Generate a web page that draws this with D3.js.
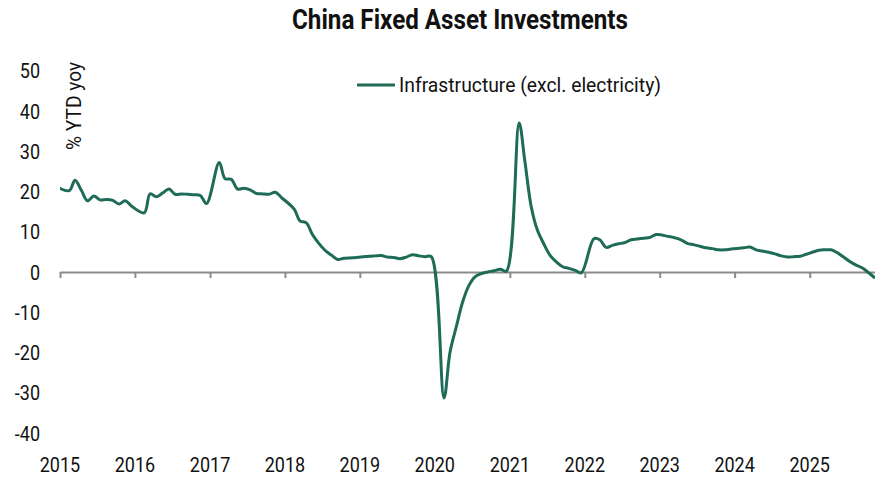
<!DOCTYPE html>
<html><head><meta charset="utf-8">
<script src="https://cdn.jsdelivr.net/npm/d3@7"></script>
<style>
body{margin:0;background:#fff}
svg{display:block;background:#fff}
text{font-family:Roboto,"Liberation Sans",sans-serif;fill:#111}
</style>
</head><body>
<svg id="chart" width="875" height="478"></svg>
<script>
// ---- data ----
const title = "China Fixed Asset Investments";
const seriesName = "Infrastructure (excl. electricity)";
const yAxisTitle = "% YTD yoy";
const months = [
  "2014-12",
  "2015-02","2015-03","2015-04","2015-05","2015-06","2015-07","2015-08","2015-09","2015-10","2015-11","2015-12",
  "2016-02","2016-03","2016-04","2016-05","2016-06","2016-07","2016-08","2016-09","2016-10","2016-11","2016-12",
  "2017-02","2017-03","2017-04","2017-05","2017-06","2017-07","2017-08","2017-09","2017-10","2017-11","2017-12",
  "2018-02","2018-03","2018-04","2018-05","2018-06","2018-07","2018-08","2018-09","2018-10","2018-11","2018-12",
  "2019-02","2019-03","2019-04","2019-05","2019-06","2019-07","2019-08","2019-09","2019-10","2019-11","2019-12",
  "2020-02","2020-03","2020-04","2020-05","2020-06","2020-07","2020-08","2020-09","2020-10","2020-11","2020-12",
  "2021-02","2021-03","2021-04","2021-05","2021-06","2021-07","2021-08","2021-09","2021-10","2021-11","2021-12",
  "2022-02","2022-03","2022-04","2022-05","2022-06","2022-07","2022-08","2022-09","2022-10","2022-11","2022-12",
  "2023-02","2023-03","2023-04","2023-05","2023-06","2023-07","2023-08","2023-09","2023-10","2023-11","2023-12",
  "2024-02","2024-03","2024-04","2024-05","2024-06","2024-07","2024-08","2024-09","2024-10","2024-11","2024-12",
  "2025-02","2025-03","2025-04","2025-05","2025-06","2025-07","2025-08","2025-09","2025-10","2025-11"
];
const infraValues = [
  21.2,
  20.2, 22.8, 20.3, 17.7, 18.9, 17.9, 18.0, 17.8, 16.9, 17.7, 16.4,
  14.7, 19.4, 18.7, 19.6, 20.6, 19.3, 19.4, 19.3, 19.2, 19.0, 17.0,
  27.2, 23.2, 23.0, 20.6, 20.8, 20.4, 19.5, 19.4, 19.3, 19.8, 18.5,
  15.6, 12.7, 12.2, 9.3, 7.1, 5.4, 4.2, 3.1, 3.4, 3.5, 3.6,
  3.9, 4.0, 4.1, 3.7, 3.6, 3.3, 3.7, 4.3, 4.0, 3.8, 3.8,
  -31.3, -20.0, -13.6, -7.6, -3.4, -1.2, -0.4, 0.0, 0.3, 0.7, 0.2,
  37.0, 27.5, 16.2, 10.4, 7.0, 4.2, 2.5, 1.3, 0.9, 0.4, -0.2,
  8.3, 8.0, 6.1, 6.6, 7.0, 7.3, 8.0, 8.2, 8.4, 8.6, 9.3,
  8.8, 8.5, 8.0, 7.1, 6.8, 6.4, 6.0, 5.8, 5.5, 5.5, 5.7,
  6.0, 6.2, 5.5, 5.2, 4.9, 4.5, 4.0, 3.7, 3.8, 3.9, 4.4,
  5.4, 5.5, 5.5, 4.8, 3.7, 2.6, 1.7, 1.0, -0.2, -1.5
];
const yTickValues = [-40, -30, -20, -10, 0, 10, 20, 30, 40, 50];
const xTickYears = [2015, 2016, 2017, 2018, 2019, 2020, 2021, 2022, 2023, 2024, 2025];

// ---- build ----
const svg = d3.select("#chart");
const parse = d3.timeParse("%Y-%m");
const data = months.map((m, i) => {
  const d = parse(m); d.setDate(15);
  return { date: d, value: infraValues[i] };
});

const x = d3.scaleTime()
  .domain([new Date(2015, 0, 1), data[data.length - 1].date])
  .range([60, 875]);
const y = d3.scaleLinear().domain([-40, 50]).range([433, 70.7]);

const lineColor = "#1e6b57";
const axisColor = "#8a8a8a";

// condense helper: squeeze text horizontally to mimic a condensed face
function condense(sel, factor) {
  sel.each(function () {
    const w = this.getComputedTextLength();
    d3.select(this).attr("textLength", w * factor).attr("lengthAdjust", "spacingAndGlyphs");
  });
}

// title
svg.append("text")
  .attr("x", 460).attr("y", 29)
  .attr("text-anchor", "middle")
  .attr("font-size", 27).attr("font-weight", "bold")
  .attr("textLength", 336).attr("lengthAdjust", "spacingAndGlyphs")
  .text(title);

// y axis labels
const yAxis = d3.axisLeft(y).tickValues(yTickValues).tickSize(0).tickPadding(0).tickFormat(d => String(d));
const gy = svg.append("g").attr("transform", "translate(40,0)").call(yAxis);
gy.select(".domain").remove();
gy.selectAll("text").attr("font-size", 20).attr("font-family", "Roboto").attr("fill", "#111").attr("dy", "0.36em");
condense(gy.selectAll("text"), 0.9);

// y axis title
svg.append("text")
  .attr("transform", "translate(81,150) rotate(-90)")
  .attr("font-size", 20)
  .attr("textLength", 88).attr("lengthAdjust", "spacingAndGlyphs")
  .text(yAxisTitle);

// x axis at zero
const xAxis = d3.axisBottom(x)
  .tickValues(xTickYears.map(yr => new Date(yr, 0, 1)))
  .tickSize(6).tickSizeOuter(0).tickFormat("");
const gx = svg.append("g").attr("transform", `translate(0,${y(0)})`).call(xAxis);
gx.select(".domain").attr("stroke", axisColor).attr("stroke-width", 2.2);
gx.selectAll(".tick line").attr("stroke", axisColor).attr("stroke-width", 2);

// x labels at bottom
const xl = svg.append("g").selectAll("text")
  .data(xTickYears).join("text")
  .attr("x", d => x(new Date(d, 0, 1)))
  .attr("y", 472)
  .attr("text-anchor", "middle")
  .attr("font-size", 20)
  .text(d => d);
condense(xl, 0.9);

// clip and line
svg.append("clipPath").attr("id", "plotclip")
  .append("rect").attr("x", 60).attr("y", 40).attr("width", 815).attr("height", 420);

const line = d3.line()
  .x(d => x(d.date)).y(d => y(d.value))
  .curve(d3.curveCatmullRom.alpha(0.5));

svg.append("path")
  .datum(data)
  .attr("clip-path", "url(#plotclip)")
  .attr("fill", "none")
  .attr("stroke", lineColor)
  .attr("stroke-width", 3)
  .attr("stroke-linejoin", "round")
  .attr("d", line);

// legend
const lg = svg.append("g");
lg.append("line").attr("x1", 357).attr("x2", 395).attr("y1", 85).attr("y2", 85)
  .attr("stroke", lineColor).attr("stroke-width", 3);
lg.append("text").attr("x", 399).attr("y", 92)
  .attr("font-size", 20)
  .attr("textLength", 262).attr("lengthAdjust", "spacingAndGlyphs")
  .text(seriesName);
</script>
</body></html>
